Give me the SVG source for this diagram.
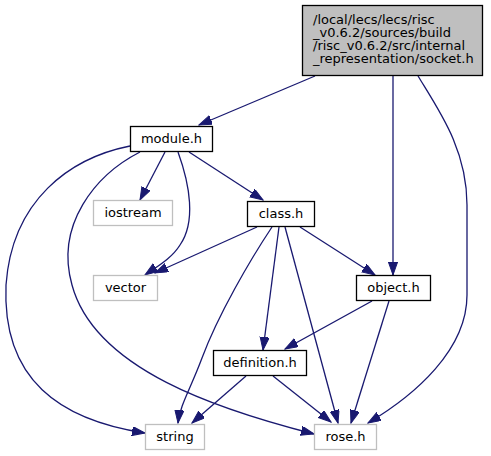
<svg xmlns="http://www.w3.org/2000/svg" width="491" height="456" viewBox="0 0 491 456">
<defs>
<marker id="ah" markerUnits="userSpaceOnUse" markerWidth="14" markerHeight="10" refX="13" refY="4.6" orient="auto">
<path d="M0,0 L13,4.6 L0,9.2 z" fill="#191970" stroke="#191970" stroke-width="1"/>
</marker>
</defs>
<style>
text{font-family:"DejaVu Sans","Liberation Sans",sans-serif;font-size:13px;fill:#000}
.n rect{fill:#fff;stroke:#000;stroke-width:1.3}
.x rect{fill:#fff;stroke:#bfbfbf;stroke-width:1.3}
.c{text-anchor:middle}
#edges path{fill:none;stroke:#191970;stroke-width:1.3;marker-end:url(#ah)}
</style>
<rect width="491" height="456" fill="#fff"/>
<g id="edges">
<path d="M315,76 L199,125"/>
<path d="M393,76 L393,275"/>
<path d="M418,76 C440,112 467,150 467,205 L467,295 C467,350 415,395 368,423"/>
<path d="M165,152 L140,200"/>
<path d="M178,152 C190,185 196,222 180,245 C172,258 158,266 145,275"/>
<path d="M130,146 C70,158 12,200 6,285 C2,380 60,420 145,433"/>
<path d="M140,152 C95,175 55,225 72,285 C95,370 220,410 314,434"/>
<path d="M189,152 L263,200"/>
<path d="M257,227 L155,273"/>
<path d="M300,227 L375,275"/>
<path d="M279,227 L263,350"/>
<path d="M272,227 C250,260 218,315 202,358 C190,390 180,405 178,423"/>
<path d="M285,227 L338,423"/>
<path d="M372,301 L285,349"/>
<path d="M389,301 L351,423"/>
<path d="M246,376 L192,423"/>
<path d="M273,376 L331,422"/>
</g>
<g id="node1" class="n">
<rect x="302.5" y="5.5" width="180" height="70" style="fill:#bfbfbf"/>
<text x="313" y="24">/local/lecs/lecs/risc</text>
<text x="313" y="37">_v0.6.2/sources/build</text>
<text x="313" y="50">/risc_v0.6.2/src/internal</text>
<text x="313" y="63">_representation/socket.h</text>
</g>
<g id="node2" class="n">
<rect x="130.5" y="126.5" width="82" height="25"/>
<text class="c" x="171.5" y="143">module.h</text>
</g>
<g id="node3" class="x">
<rect x="93.5" y="200.5" width="79" height="25"/>
<text class="c" x="133" y="217">iostream</text>
</g>
<g id="node4" class="n">
<rect x="247.5" y="201.5" width="67" height="25"/>
<text class="c" x="281" y="218">class.h</text>
</g>
<g id="node5" class="x">
<rect x="93.5" y="275.5" width="64" height="25"/>
<text class="c" x="125.5" y="292">vector</text>
</g>
<g id="node6" class="n">
<rect x="356.5" y="275.5" width="74" height="25"/>
<text class="c" x="393.5" y="292">object.h</text>
</g>
<g id="node7" class="n">
<rect x="213.5" y="350.5" width="93" height="25"/>
<text class="c" x="260" y="367">definition.h</text>
</g>
<g id="node8" class="x">
<rect x="145.5" y="424.5" width="59" height="25"/>
<text class="c" x="175" y="441">string</text>
</g>
<g id="node9" class="x">
<rect x="314.5" y="424.5" width="62" height="25"/>
<text class="c" x="345.5" y="441">rose.h</text>
</g>
</svg>
